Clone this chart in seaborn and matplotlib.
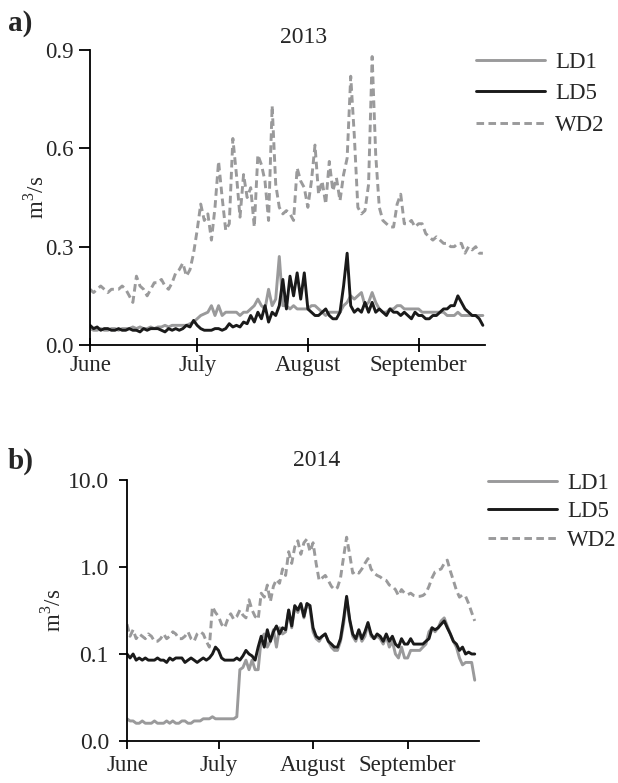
import numpy as np
import pandas as pd
import matplotlib
matplotlib.use("Agg")
import matplotlib.pyplot as plt
import seaborn as sns

# ---------------- data ----------------
series_names = ["LD1", "LD5", "WD2"]
month_labels = ["June", "July", "August", "September"]
years = ["2013", "2014"]

ld1_2013 = [0.05, 0.045, 0.045, 0.05, 0.045, 0.045, 0.05, 0.05, 0.045, 0.05,
            0.05, 0.05, 0.055, 0.05, 0.055, 0.05, 0.05, 0.055, 0.05, 0.055,
            0.055, 0.06, 0.055, 0.06, 0.06, 0.06, 0.06, 0.06, 0.065, 0.07,
            0.08, 0.09, 0.095, 0.10, 0.12, 0.09, 0.12, 0.09, 0.10, 0.10,
            0.10, 0.10, 0.09, 0.10, 0.10, 0.11, 0.12, 0.14, 0.12, 0.11,
            0.17, 0.12, 0.14, 0.27, 0.12, 0.12, 0.11, 0.12, 0.11, 0.11,
            0.11, 0.11, 0.12, 0.12, 0.11, 0.10, 0.09, 0.10, 0.10, 0.10,
            0.10, 0.12, 0.13, 0.15, 0.14, 0.15, 0.16, 0.12, 0.13, 0.16,
            0.13, 0.11, 0.10, 0.10, 0.11, 0.11, 0.12, 0.12, 0.11, 0.11,
            0.11, 0.11, 0.11, 0.10, 0.10, 0.10, 0.10, 0.10, 0.10, 0.10,
            0.09, 0.09, 0.09, 0.10, 0.09, 0.09, 0.09, 0.09, 0.09, 0.09, 0.09]
ld5_2013 = [0.06, 0.05, 0.055, 0.045, 0.05, 0.05, 0.045, 0.045, 0.05, 0.045,
            0.045, 0.05, 0.045, 0.045, 0.04, 0.05, 0.045, 0.05, 0.05, 0.05,
            0.045, 0.04, 0.05, 0.045, 0.05, 0.045, 0.05, 0.06, 0.055, 0.075,
            0.06, 0.05, 0.045, 0.045, 0.045, 0.05, 0.05, 0.045, 0.05, 0.065,
            0.055, 0.06, 0.055, 0.07, 0.065, 0.09, 0.07, 0.10, 0.08, 0.12,
            0.07, 0.10, 0.09, 0.12, 0.20, 0.11, 0.21, 0.15, 0.22, 0.14,
            0.22, 0.11, 0.10, 0.09, 0.09, 0.10, 0.11, 0.09, 0.08, 0.08,
            0.10, 0.18, 0.28, 0.12, 0.10, 0.11, 0.10, 0.13, 0.10, 0.13,
            0.10, 0.11, 0.10, 0.09, 0.11, 0.10, 0.10, 0.09, 0.10, 0.09,
            0.08, 0.10, 0.09, 0.09, 0.08, 0.08, 0.09, 0.09, 0.10, 0.11,
            0.11, 0.12, 0.12, 0.15, 0.13, 0.11, 0.10, 0.09, 0.09, 0.08, 0.06]
wd2_2013 = [0.17, 0.16, 0.17, 0.18, 0.17, 0.16, 0.17, 0.17, 0.17, 0.18,
            0.17, 0.15, 0.13, 0.21, 0.18, 0.17, 0.15, 0.17, 0.19, 0.19,
            0.20, 0.18, 0.17, 0.19, 0.22, 0.23, 0.25, 0.21, 0.23, 0.28,
            0.35, 0.43, 0.38, 0.40, 0.32, 0.42, 0.56, 0.45, 0.35, 0.37,
            0.63, 0.52, 0.39, 0.52, 0.45, 0.48, 0.36, 0.58, 0.55, 0.50,
            0.38, 0.73, 0.49, 0.42, 0.40, 0.41, 0.40, 0.38, 0.54, 0.50,
            0.48, 0.42, 0.50, 0.61, 0.46, 0.50, 0.43, 0.56, 0.47, 0.51,
            0.44, 0.52, 0.57, 0.82, 0.64, 0.42, 0.40, 0.41, 0.49, 0.88,
            0.58, 0.42, 0.38, 0.37, 0.36, 0.36, 0.43, 0.46, 0.37, 0.37,
            0.38, 0.36, 0.37, 0.37, 0.34, 0.33, 0.32, 0.33, 0.32, 0.31,
            0.31, 0.30, 0.30, 0.31, 0.31, 0.28, 0.30, 0.29, 0.30, 0.28, 0.28]

ld1_2014 = [0.018, 0.017, 0.017, 0.016, 0.016, 0.017, 0.016, 0.016, 0.016, 0.017,
            0.016, 0.016, 0.016, 0.017, 0.016, 0.017, 0.016, 0.016, 0.017, 0.017,
            0.016, 0.016, 0.017, 0.017, 0.017, 0.018, 0.018, 0.018, 0.019, 0.018,
            0.018, 0.018, 0.018, 0.018, 0.018, 0.018, 0.019, 0.066, 0.07, 0.085,
            0.066, 0.085, 0.066, 0.066, 0.15, 0.17, 0.12, 0.14, 0.19, 0.12,
            0.20, 0.17, 0.18, 0.32, 0.20, 0.35, 0.30, 0.37, 0.26, 0.38,
            0.33, 0.18, 0.15, 0.14, 0.16, 0.17, 0.14, 0.12, 0.11, 0.11,
            0.14, 0.22, 0.44, 0.24, 0.16, 0.14, 0.18, 0.14, 0.16, 0.22,
            0.16, 0.15, 0.16, 0.15, 0.13, 0.16, 0.12, 0.14, 0.10, 0.09,
            0.12, 0.09, 0.09, 0.11, 0.11, 0.11, 0.11, 0.12, 0.13, 0.18,
            0.20, 0.18, 0.20, 0.24, 0.26, 0.21, 0.17, 0.14, 0.12, 0.09,
            0.075, 0.08, 0.08, 0.08, 0.05]
ld5_2014 = [0.10, 0.09, 0.10, 0.085, 0.09, 0.085, 0.09, 0.085, 0.085, 0.085,
            0.09, 0.085, 0.085, 0.08, 0.09, 0.085, 0.09, 0.09, 0.09, 0.08,
            0.085, 0.09, 0.085, 0.08, 0.085, 0.09, 0.085, 0.09, 0.10, 0.12,
            0.11, 0.09, 0.085, 0.085, 0.085, 0.085, 0.09, 0.085, 0.095, 0.11,
            0.10, 0.095, 0.085, 0.12, 0.16, 0.12, 0.19, 0.14, 0.18, 0.21,
            0.17, 0.20, 0.19, 0.32, 0.21, 0.36, 0.32, 0.38, 0.27, 0.38,
            0.36, 0.20, 0.16, 0.15, 0.16, 0.17, 0.14, 0.13, 0.12, 0.12,
            0.15, 0.25, 0.46, 0.25, 0.17, 0.15, 0.19, 0.15, 0.18, 0.23,
            0.17, 0.15, 0.17, 0.16, 0.14, 0.17, 0.14, 0.16, 0.13, 0.12,
            0.15, 0.13, 0.13, 0.15, 0.13, 0.13, 0.13, 0.13, 0.14, 0.15,
            0.20, 0.19, 0.20, 0.22, 0.24, 0.20, 0.17, 0.14, 0.13, 0.11,
            0.12, 0.10, 0.105, 0.10, 0.10]
wd2_2014 = [0.22, 0.16, 0.19, 0.15, 0.17, 0.16, 0.15, 0.17, 0.16, 0.14,
            0.14, 0.15, 0.17, 0.15, 0.16, 0.18, 0.17, 0.15, 0.15, 0.16,
            0.18, 0.15, 0.14, 0.17, 0.18, 0.17, 0.14, 0.12, 0.35, 0.30,
            0.27, 0.22, 0.20, 0.25, 0.29, 0.25, 0.27, 0.32, 0.28, 0.26,
            0.42, 0.32, 0.27, 0.25, 0.50, 0.45, 0.62, 0.40, 0.60, 0.72,
            0.65, 0.95, 0.80, 1.5, 1.1, 1.7, 2.0, 1.4, 1.9, 2.1,
            1.5, 1.9, 1.1, 0.70, 0.75, 0.80, 0.70, 0.60, 0.55, 0.58,
            0.75, 1.3, 2.2, 1.4, 0.85, 0.90, 0.85, 0.95, 1.1, 1.25,
            0.95, 0.85, 0.80, 0.77, 0.72, 0.70, 0.62, 0.60, 0.55, 0.47,
            0.55, 0.50, 0.48, 0.50, 0.47, 0.46, 0.46, 0.47, 0.50, 0.60,
            0.75, 0.88, 0.92, 0.95, 1.1, 1.2, 0.90, 0.70, 0.54, 0.45,
            0.48, 0.46, 0.38, 0.30, 0.24]

# ---------------- style ----------------
sns.set_style("ticks")
plt.rcParams["font.family"] = ["Liberation Serif", "DejaVu Serif"]
plt.rcParams["mathtext.fontset"] = "custom"
plt.rcParams["mathtext.rm"] = "Liberation Serif"
FS = 16.5

c_gray = "#9a9a9b"
c_black = "#1a1a1a"
styles = {
    "LD1": dict(color=c_gray, lw=2.1, ls="-"),
    "LD5": dict(color=c_black, lw=2.1, ls="-"),
    "WD2": dict(color=c_gray, lw=2.1, ls=(0, (2.6, 1.5))),
}

fig = plt.figure(figsize=(6.18, 7.83), dpi=100)
W, H = 618, 783


def px_axes(l, t, r, b):
    return fig.add_axes([l / W, 1 - b / H, (r - l) / W, (b - t) / H])


ax1 = px_axes(90, 50, 485, 345)
ax2 = px_axes(127, 480, 479, 741)

panels = [
    (ax1, "2013", [ld1_2013, ld5_2013, wd2_2013], 110.6, 1.008),
    (ax2, "2014", [ld1_2014, ld5_2014, wd2_2014], 115.4, 1.035),
]

for ax, yr, data, xend, ty in panels:
    start = pd.Timestamp(f"{yr}-06-01")
    for name, vals in zip(series_names, data):
        dates = pd.date_range(start, periods=len(vals), freq="D")
        st = styles[name]
        sns.lineplot(x=dates, y=vals, ax=ax, color=st["color"], lw=st["lw"],
                     label=name, legend=False)
        ax.get_lines()[-1].set_linestyle(st["ls"])
    ax.set_xlim(start, start + pd.Timedelta(days=xend))
    ticks = [pd.Timestamp(f"{yr}-{m:02d}-01") for m in (6, 7, 8, 9)]
    ax.set_xticks(ticks)
    ax.set_xticklabels(month_labels, fontsize=FS)
    ax.set_xlabel("")
    ax.set_ylabel("m$^3$/s", fontsize=FS)
    for s in ("top", "right"):
        ax.spines[s].set_visible(False)
    for s in ("left", "bottom"):
        ax.spines[s].set_linewidth(1.3)
        ax.spines[s].set_color("black")
    ax.text(0.54, ty, yr, transform=ax.transAxes, ha="center", va="bottom",
            fontsize=FS + 0.5)

# panel a specifics
ax1.set_ylim(0, 0.9)
ax1.set_yticks([0.0, 0.3, 0.6, 0.9])
ax1.set_yticklabels(["0.0", "0.3", "0.6", "0.9"])
ax1.tick_params(axis="y", labelsize=FS, length=8, width=1.3, color="black",
                direction="out", pad=4)
ax1.tick_params(axis="x", length=10, width=1.3, direction="inout", pad=2,
                color="black")
ax1.yaxis.set_label_coords(-0.105, 0.5)

# panel b specifics
ax2.set_yscale("log")
ax2.set_ylim(0.01, 10)
ax2.set_yticks([0.01, 0.1, 1, 10])
ax2.set_yticklabels(["0.0", "0.1", "1.0", "10.0"])
ax2.yaxis.set_minor_locator(matplotlib.ticker.NullLocator())
ax2.tick_params(axis="y", labelsize=FS + 0.5, length=6, width=1.3,
                color="black", direction="out", pad=7)
ax2.tick_params(axis="x", length=6, width=1.3, direction="out", pad=4,
                color="black")
ax2.yaxis.set_label_coords(-0.175, 0.5)

# legends
for ax, (lx, ly), sp in [(ax1, (476 / W, 1 - 52 / H), 0.45),
                         (ax2, (488 / W, 1 - 473 / H), 0.32)]:
    h, l = ax.get_legend_handles_labels()
    fig.legend(h, l, loc="upper left", bbox_to_anchor=(lx, ly), frameon=False,
               fontsize=FS, handlelength=3.0, handletextpad=0.45,
               labelspacing=sp, borderpad=0.0, borderaxespad=0.0)

fig.text(8 / W, 1 - 10 / H, "a)", fontsize=21, fontweight="bold",
         ha="left", va="top")
fig.text(8 / W, 1 - 448 / H, "b)", fontsize=21, fontweight="bold",
         ha="left", va="top")

fig.savefig("out.png", dpi=100)
